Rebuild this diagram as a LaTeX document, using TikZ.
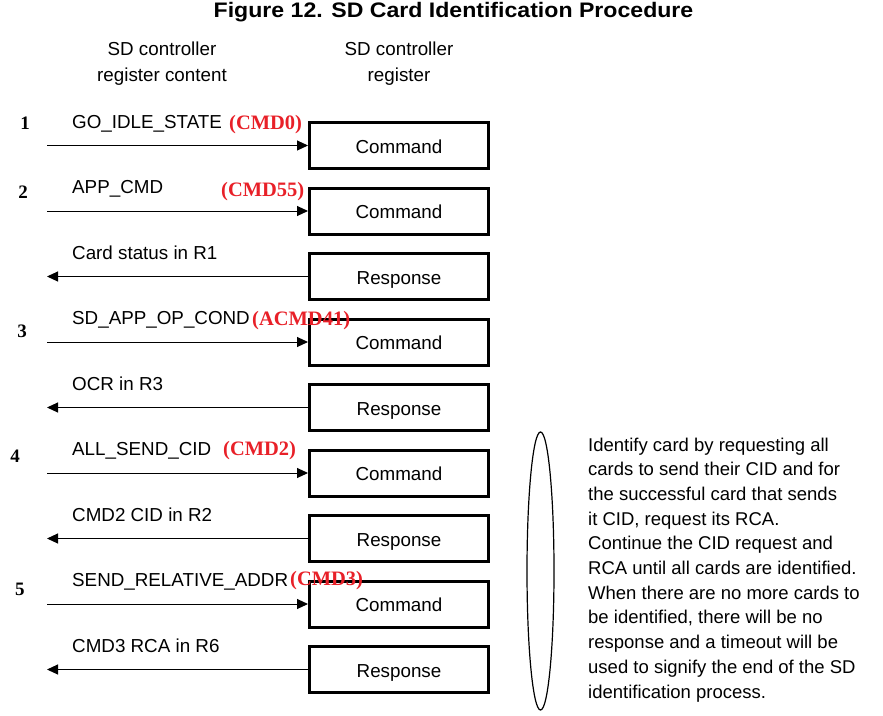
\documentclass[tikz,border=0pt]{standalone}
\usepackage{fontspec}
\setmainfont{Liberation Sans}
\newfontfamily\timesfont{Liberation Serif}
\usetikzlibrary{arrows.meta,shapes.geometric}
\definecolor{cmdred}{RGB}{232,32,40}
\begin{document}
\begin{tikzpicture}[x=1pt,y=-1pt,
 regbox/.style={draw,line width=3pt,minimum width=179pt,minimum height=46pt,inner sep=0pt,text height=18pt,text depth=3pt,font=\fontsize{18.8}{22}\selectfont},
 flow/.style={line width=1pt,-{Triangle[length=11pt,width=10pt]}},
 lbl/.style={anchor=base west,inner sep=0pt,font=\fontsize{18.8}{22}\selectfont},
 code/.style={anchor=base west,inner sep=0pt,text=cmdred,font=\timesfont\bfseries\fontsize{20.5}{24}\selectfont},
 stepnum/.style={anchor=base,inner sep=0pt,font=\timesfont\bfseries\fontsize{19}{22}\selectfont},
 hdr/.style={anchor=base,inner sep=0pt,font=\fontsize{18.8}{22}\selectfont},
 note/.style={anchor=base west,inner sep=0pt,font=\fontsize{18.5}{22}\selectfont}]
\useasboundingbox (0,0) rectangle (883,715);

% title and headers
\node[anchor=base,inner sep=0pt,font=\bfseries\fontsize{21}{24}\selectfont] (title) at (453.5,17.5) {\scalebox{1.10}[1]{Figure 12. SD Card Identification Procedure}};
\node[hdr] (h1a) at (162,55) {SD controller};
\node[hdr] (h1b) at (162,81) {register content};
\node[hdr] (h2a) at (399,55) {SD controller};
\node[hdr] (h2b) at (399,81) {register};

% boxes
\node[regbox] (b1) at (399,145.5) {Command};
\node[regbox] (b2) at (399,211) {Command};
\node[regbox] (b3) at (399,276.5) {Response};
\node[regbox] (b4) at (399,342) {Command};
\node[regbox] (b5) at (399,407.5) {Response};
\node[regbox] (b6) at (399,473) {Command};
\node[regbox] (b7) at (399,538.5) {Response};
\node[regbox] (b8) at (399,604) {Command};
\node[regbox] (b9) at (399,669.5) {Response};

% free ends
\coordinate (e1) at (47,145.5);
\coordinate (e2) at (47,211);
\coordinate (e3) at (47,276.5);
\coordinate (e4) at (47,342);
\coordinate (e5) at (47,407.5);
\coordinate (e6) at (47,473);
\coordinate (e7) at (47,538.5);
\coordinate (e8) at (47,604);
\coordinate (e9) at (47,669.5);

\draw[flow] (e1) -- (b1.west);
\draw[flow] (e2) -- (b2.west);
\draw[flow] (b3.west) -- (e3);
\draw[flow] (e4) -- (b4.west);
\draw[flow] (b5.west) -- (e5);
\draw[flow] (e6) -- (b6.west);
\draw[flow] (b7.west) -- (e7);
\draw[flow] (e8) -- (b8.west);
\draw[flow] (b9.west) -- (e9);

% labels
\node[lbl] (l1) at (72,128) {GO\_IDLE\_STATE};
\node[lbl] (l2) at (72,193.5) {APP\_CMD};
\node[lbl] (l3) at (72,259) {Card status in R1};
\node[lbl] (l4) at (72,324.5) {SD\_APP\_OP\_COND};
\node[lbl] (l5) at (72,390) {OCR in R3};
\node[lbl] (l6) at (72,455.5) {ALL\_SEND\_CID};
\node[lbl] (l7) at (72,521) {CMD2 CID in R2};
\node[lbl] (l8) at (72,586.5) {SEND\_RELATIVE\_ADDR};
\node[lbl] (l9) at (72,652) {CMD3 RCA in R6};

% red codes
\node[code] (c1) at (229,129) {(CMD0)};
\node[code] (c2) at (221,196) {(CMD55)};
\node[code] (c4) at (252,325) {(ACMD41)};
\node[code] (c6) at (223,455) {(CMD2)};
\node[code] (c8) at (290,585) {(CMD3)};

% step numbers
\node[stepnum] (s1) at (25,129) {1};
\node[stepnum] (s2) at (23,198) {2};
\node[stepnum] (s3) at (22,337) {3};
\node[stepnum] (s4) at (15,462) {4};
\node[stepnum] (s5) at (20,595) {5};

% ellipse and note
\node[draw,ellipse,line width=1.2pt,minimum width=27pt,minimum height=278pt,inner sep=0pt] (ell) at (540.5,571) {};
\foreach \t [count=\i from 0] in {Identify card by requesting all,
 cards to send their CID and for,
 the successful card that sends,
 {it CID, request its RCA.},
 Continue the CID request and,
 RCA until all cards are identified.,
 When there are no more cards to,
 {be identified, there will be no},
 response and a timeout will be,
 used to signify the end of the SD,
 identification process.}
 \node[note] (n\i) at (588,451+24.7*\i) {\t};
\end{tikzpicture}
\end{document}
